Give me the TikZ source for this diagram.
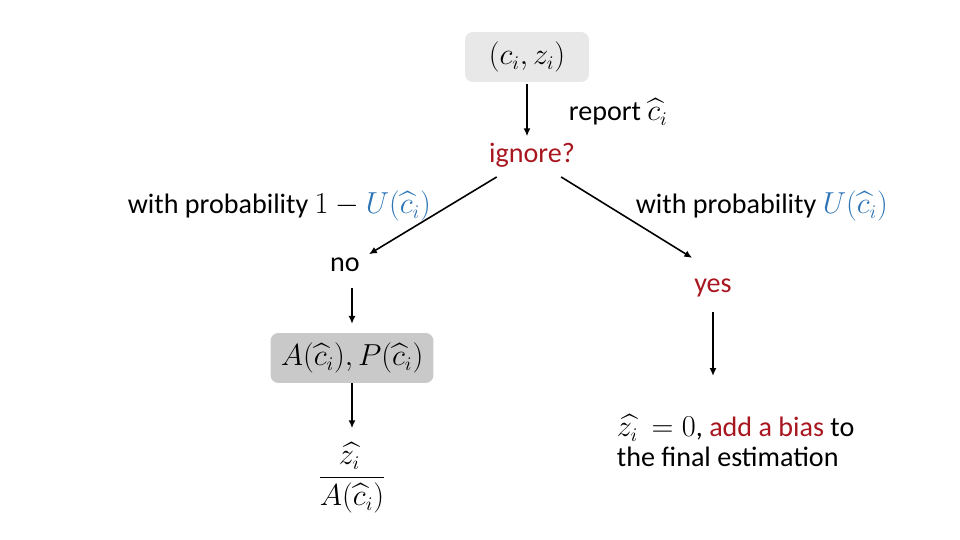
\documentclass[tikz,border=0pt]{standalone}
\usepackage{amsmath}
\usepackage{fontspec}
\setmainfont{Carlito}
\usetikzlibrary{arrows.meta}
\definecolor{darkred}{RGB}{168,22,32}
\definecolor{ublue}{RGB}{46,117,182}
\tikzset{
    flow/.style={-{Latex[length=4.5pt,width=4pt]}, line width=0.9pt},
    greybox/.style={rounded corners=4.5pt, inner sep=0pt},
}
\begin{document}
\begin{tikzpicture}[x=0.02cm, y=-0.02cm, every node/.style={inner sep=2pt, font=\fontsize{16}{17}\selectfont}]
	    \useasboundingbox (0,0) rectangle (960,540);
	    % top state and the question
	    \node[greybox, fill=black!9, minimum width=2.48cm, minimum height=1cm] (pair) at (527,57) {$(c_i, z_i)$};
	    \node[anchor=base west] (report) at (565,121) {report $\widehat{c}_i$};
	    \node[anchor=base, text=darkred] (ignore) at (532,163) {ignore?};
	    \node[anchor=base west] (pleft) at (124,214) {with probability $1-{\color{ublue}U(\widehat{c}_i)}$};
	    \node[anchor=base west] (pright) at (632,214) {with probability ${\color{ublue}U(\widehat{c}_i)}$};
	    % no branch
	    \node (no) at (345,265) {no};
	    \node[greybox, fill=black!21, minimum width=3.26cm, minimum height=1cm] (ap) at (352,358) {$A(\widehat{c}_i), P(\widehat{c}_i)$};
	    \node (est) at (352,478) {$\dfrac{\widehat{z_i\,}}{A(\widehat{c}_i)}$};
	    % yes branch
	    \node[anchor=base, text=darkred] (yes) at (713,293) {yes};
	    \node[anchor=west, align=left] (bias) at (613,441) {$\widehat{z_i\,}=0$, \textcolor{darkred}{add a bias} to\\the final estimation};

	    \draw[flow, shorten <=1pt, shorten >=2pt] (pair.south) -- (pair.south |- ignore.north);
	    \draw[flow] ([shift={(6.5pt,-3pt)}]ignore.south west) -- ([xshift=3pt]no.north east);
	    \draw[flow] ([shift={(-10pt,-3pt)}]ignore.south east) -- ([shift={(1pt,10pt)}]yes.north west);
	    \draw[flow, shorten <=7pt, shorten >=5pt] (ap.north |- no.south) -- (ap.north);
	    \draw[flow, shorten >=6pt] (ap) -- (est);
	    \draw[flow, shorten <=6pt, shorten >=20pt] (yes.south) -- (yes.south |- bias.north);
\end{tikzpicture}
\end{document}
